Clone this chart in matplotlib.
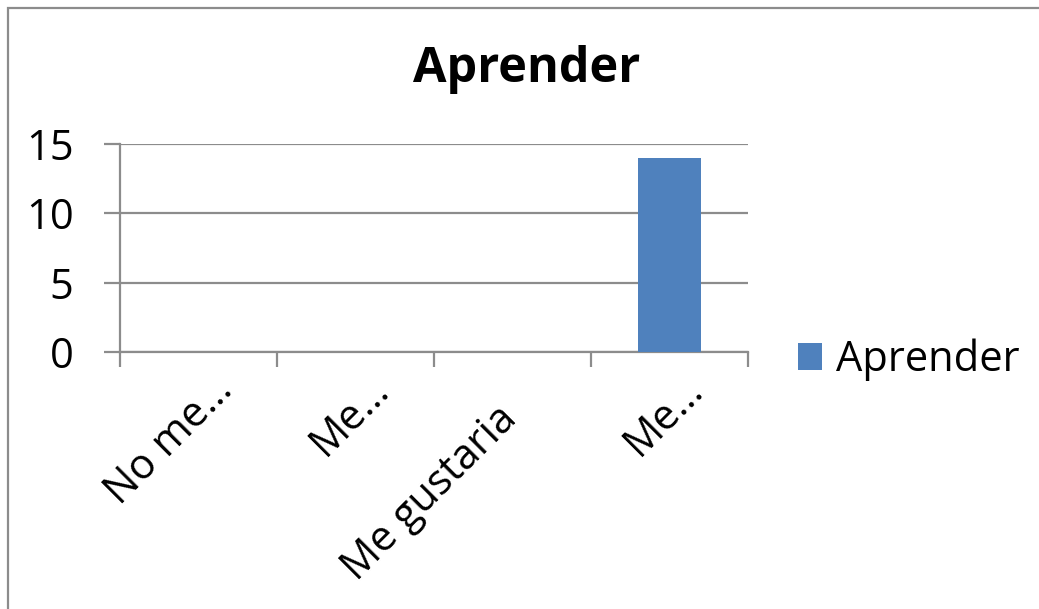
import matplotlib
matplotlib.use("Agg")
import matplotlib.pyplot as plt
from matplotlib.patches import Rectangle
from matplotlib.transforms import ScaledTranslation

categories = ["No me…", "Me…", "Me gustaria", "Me…"]
values = [0, 0, 0, 14]
series_name = "Aprender"
yticks = [0, 5, 10, 15]

plt.rcParams["font.family"] = ["Open Sans", "DejaVu Sans"]

fig = plt.figure(figsize=(10.39, 6.09), dpi=100)
W, H = 1039, 609
ax = fig.add_axes([120 / W, 1 - 352 / H, (748 - 120) / W, (352 - 144) / H])

x = list(range(len(categories)))
ax.bar(x, values, width=0.4, color="#4F81BD", label=series_name, zorder=3)
ax.set_xlim(-0.5, len(categories) - 0.5)
ax.set_ylim(0, 15)
ax.set_yticks(yticks)
ax.set_yticklabels([str(t) for t in yticks], fontsize=30)
ax.yaxis.grid(True, color="#8c8c8c", linewidth=1.6)
ax.set_axisbelow(True)

for s in ["top", "right"]:
    ax.spines[s].set_visible(False)
for s in ["left", "bottom"]:
    ax.spines[s].set_color("#8c8c8c")
    ax.spines[s].set_linewidth(1.6)

ax.tick_params(axis="y", length=11.5, width=1.6, color="#8c8c8c", pad=22)
# tick marks sit between categories, as in Excel
ax.set_xticks([i - 0.5 for i in range(len(categories) + 1)])
ax.set_xticklabels([])
ax.tick_params(axis="x", length=11, width=1.6, color="#8c8c8c")

# rotated category labels; truncated ones are placed a bit further along
for i, lab in enumerate(categories):
    if lab.endswith("…"):
        dx, dy = 13, -17
    else:
        dx, dy = -17, -46
    tr = ax.get_xaxis_transform() + ScaledTranslation(dx / 100, dy / 100, fig.dpi_scale_trans)
    ax.text(i, 0, lab, transform=tr, rotation=45, rotation_mode="anchor",
            ha="right", va="top", fontsize=30)

fig.text(527 / W, 1 - 82 / H, "Aprender", fontsize=35, fontweight="bold",
         ha="center", va="baseline")

fig.legend(loc="center left", bbox_to_anchor=(798 / W, 1 - 360 / H), frameon=False,
           fontsize=30, handlelength=0.58, handleheight=0.62, handletextpad=0.34,
           borderpad=0, borderaxespad=0)

fig.patches.append(Rectangle((8 / W, -0.2), 1.2, 1.2 - 8 / H, transform=fig.transFigure,
                             fill=False, edgecolor="#8c8c8c", linewidth=1.6))

fig.savefig("out.png", dpi=100, facecolor="white")
